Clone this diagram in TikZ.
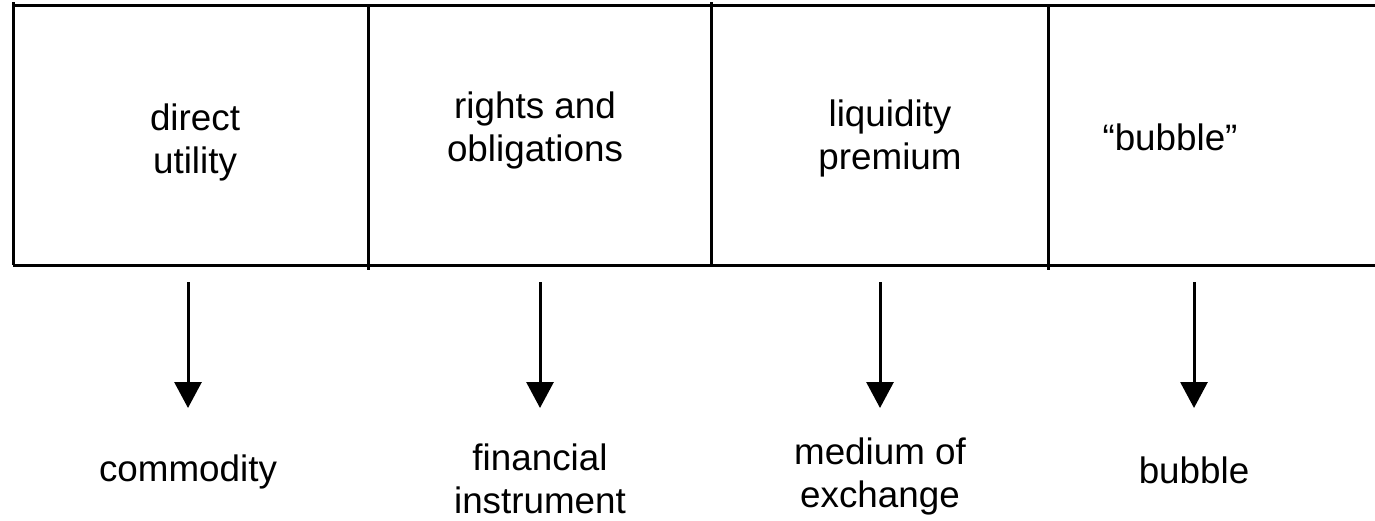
\documentclass[tikz,border=0pt]{standalone}
\usepackage{fontspec}
\setmainfont{Liberation Sans}
\usetikzlibrary{arrows.meta,positioning}

\begin{document}
\begin{tikzpicture}[x=0.5pt,y=-0.5pt,
    label/.style={align=center,inner sep=0pt,
      font=\fontsize{18.4}{21.5}\selectfont},
    rule/.style={line width=1.5pt},
    flow/.style={line width=1.5pt,-{Triangle[width=13.5pt,length=13pt]}}]
  \useasboundingbox (0,0) rectangle (1375,520);
  % frame
  \draw [rule] (13,5) -- (1375,5);
  \draw [rule] (13,265) -- (1375,265);
  \draw [rule] (13,2) -- (13,265);
  \draw [rule] (368,5) -- (368,270);
  \draw [rule] (711,2) -- (711,265);
  \draw [rule] (1048,5) -- (1048,270);
  % box texts
  \node [label] (utility) at (195,142) {direct\\utility};
  \node [label] (rights) at (535,130) {rights and\\obligations};
  \node [label] (liquidity) at (890,138) {liquidity\\premium};
  \node [label] (quoted) at (1170,137) {“bubble”};
  % outcomes
  \node [label] (commodity) at (188,472) {commodity};
  \node [label] (financial) at (540,479) {financial\\instrument};
  \node [label] (medium) at (880,476) {medium of\\exchange};
  \node [label] (bubble) at (1194,470) {bubble};
  % arrow ends
  \coordinate (from1) at (188,282);
  \coordinate (to1) at (188,408);
  \coordinate (from2) at (540,282);
  \coordinate (to2) at (540,408);
  \coordinate (from3) at (880,282);
  \coordinate (to3) at (880,408);
  \coordinate (from4) at (1194,282);
  \coordinate (to4) at (1194,408);
  % arrows
  \draw [flow] (from1) -- (to1);
  \draw [flow] (from2) -- (to2);
  \draw [flow] (from3) -- (to3);
  \draw [flow] (from4) -- (to4);
\end{tikzpicture}
\end{document}
